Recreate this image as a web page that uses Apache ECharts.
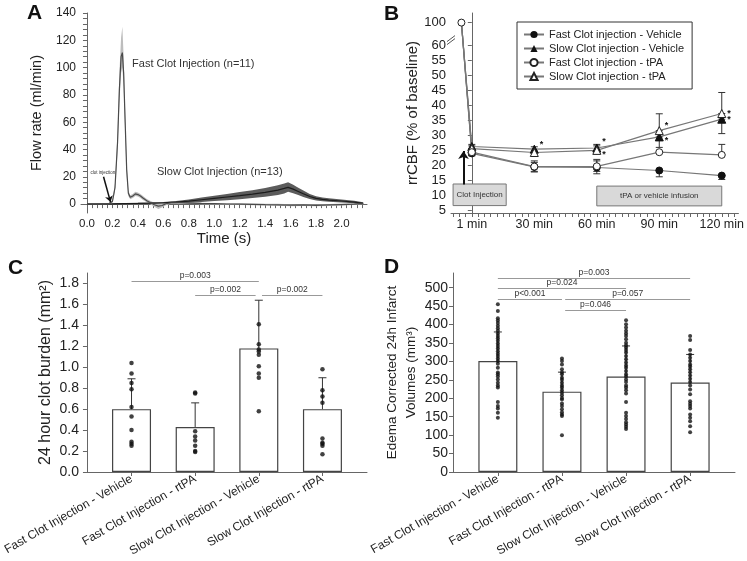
<!DOCTYPE html>
<html>
<head>
<meta charset="utf-8">
<script src="https://cdn.jsdelivr.net/npm/echarts@6/dist/echarts.min.js"></script>
<style>
  html, body { margin: 0; padding: 0; background: #fff; }
  #main { width: 747px; height: 561px; }
</style>
</head>
<body>
<div id="main"></div>
<script>
// ---- panel A : flow rate traces ----
var fastTime = [0, 0.1, 0.17, 0.2, 0.22, 0.24, 0.255, 0.268, 0.278, 0.288, 0.3, 0.312, 0.325, 0.34, 0.36, 0.38, 0.4, 0.42, 0.44, 0.47, 0.5, 0.53, 0.56, 0.59, 0.62, 0.66, 0.72, 0.8, 0.9, 1.0, 1.1, 1.2, 1.3, 1.4, 1.5, 1.6, 1.7, 1.8, 1.9, 2.0, 2.1, 2.17];
var fastMean = [0, 0, 0.3, 2, 12, 45, 85, 108, 111, 96, 60, 25, 8, 5, 6, 7.5, 7, 6, 4.5, 2.5, 1, -0.5, -1.5, -1, 0.3, 1, 1, 0.8, 0.5, 0.3, 0.1, 0, -0.2, -0.4, -0.5, -0.8, -0.6, -0.9, -0.6, -0.3, 0, 0.3];
var fastLow = [-0.5, -0.5, -0.3, 1, 9, 38, 75, 96, 100, 86, 52, 20, 6, 3.5, 4.5, 6, 5.5, 4.5, 3, 1.3, -0.2, -2, -3.5, -2.5, -0.8, 0.2, 0.3, 0.2, 0, -0.2, -0.4, -0.6, -0.8, -1, -1.2, -1.5, -1.3, -1.6, -1.3, -1, -0.6, -0.3];
var fastHigh = [0.5, 0.5, 0.9, 3, 15, 52, 97, 122, 130, 108, 68, 30, 10, 6.5, 7.5, 9, 8.5, 7.5, 6, 3.7, 2.2, 1, 0.5, 0.5, 1.4, 1.8, 1.7, 1.4, 1, 0.8, 0.6, 0.6, 0.4, 0.2, 0.2, -0.1, 0.1, -0.2, 0.1, 0.4, 0.6, 0.9];

var slowTime = [0, 0.2, 0.4, 0.5, 0.6, 0.7, 0.8, 0.9, 1.0, 1.1, 1.2, 1.3, 1.4, 1.5, 1.55, 1.58, 1.62, 1.66, 1.7, 1.75, 1.8, 1.85, 1.9, 2.0, 2.1, 2.17];
var slowMean = [0, 0.2, 0.5, 0.7, 1, 1.4, 2.2, 3.2, 4.2, 5.2, 6.2, 7.3, 8.6, 10.3, 11.5, 12.3, 11, 9.3, 7.6, 5.6, 4.2, 3.5, 3, 2.3, 1.5, 0.6];
var slowLow = [-0.5, -0.3, 0, 0.2, 0.4, 0.6, 1, 1.6, 2.2, 2.9, 3.6, 4.4, 5.4, 6.7, 7.8, 9, 8, 6.6, 5.3, 3.7, 2.6, 2.1, 1.7, 1.2, 0.6, -0.2];
var slowHigh = [0.5, 0.7, 1, 1.2, 1.6, 2.2, 3.4, 4.8, 6.2, 7.5, 8.8, 10.2, 11.8, 13.9, 15.2, 16, 14.2, 12, 9.9, 7.5, 5.8, 4.9, 4.3, 3.4, 2.4, 1.4];

var aXLabels = [0, 0.2, 0.4, 0.6, 0.8, 1.0, 1.2, 1.4, 1.6, 1.8, 2.0];
var aYLabels = [0, 20, 40, 60, 80, 100, 120, 140];

// ---- panel B : rCBF ----
var bTimes = [0, 30, 60, 90, 120];
var bTimeLabels = ['1 min', '30 min', '60 min', '90 min', '120 min'];
var bBaseline = [-5, 100];
var fastVeh = [24.0, 19.5, 19.3, 18.3, 16.6];
var fastVehErr = [[23.2, 24.0], [17.8, 21.0], [17.2, 21.5], [16.2, 18.3], [15.3, 16.6]];
var slowVeh = [26.3, 25.4, 25.8, 29.5, 35.4];
var slowVehErr = [[25.6, 27.0], [24.8, 26.2], [24.5, 27.0], [26.0, 29.5], [30.6, 35.4]];
var fastTpa = [24.4, 19.6, 19.7, 24.4, 23.5];
var fastTpaErr = [[23.4, 25.2], [18.0, 21.5], [18.0, 22.0], [24.4, 24.4], [23.5, 27.0]];
var slowTpa = [25.6, 24.3, 25.0, 31.6, 37.3];
var slowTpaErr = [[24.8, 26.5], [23.0, 24.3], [24.0, 26.5], [31.6, 37.2], [37.3, 44.3]];
var bYLabels = [5, 10, 15, 20, 25, 30, 35, 40, 45, 50, 55, 60, 100];

// ---- panel C / D : groups ----
var groupNames = ['Fast Clot Injection - Vehicle', 'Fast Clot Injection - rtPA', 'Slow Clot Injection - Vehicle', 'Slow Clot Injection - rtPA'];
var clotMean = [0.6, 0.43, 1.18, 0.6];
var clotErrTop = [0.89, 0.66, 1.64, 0.90];
var clotDots = [
  [1.04, 0.94, 0.85, 0.79, 0.62, 0.53, 0.40, 0.29, 0.27, 0.25],
  [0.76, 0.75, 0.39, 0.34, 0.30, 0.25, 0.20, 0.19],
  [1.41, 1.22, 1.17, 1.15, 1.12, 1.01, 0.94, 0.90, 0.58],
  [0.98, 0.78, 0.72, 0.66, 0.32, 0.28, 0.27, 0.25, 0.17]
];
var clotBrackets = [[1, 3, 1.82, 'p=0.003'], [2, 2.95, 1.69, 'p=0.002'], [3.05, 4, 1.69, 'p=0.002']];
var cYLabels = [0, 0.2, 0.4, 0.6, 0.8, 1.0, 1.2, 1.4, 1.6, 1.8];

var infMean = [301, 218, 259, 243];
var infErrTop = [380, 271, 342, 319];
var infDots = [
  [455, 437, 417, 411, 404, 397, 390, 383, 376, 369, 363, 356, 349, 342, 335, 328, 321, 315, 308, 301, 294, 283, 270, 265, 259, 251, 242, 235, 229, 190, 179, 172, 161, 147],
  [308, 301, 292, 279, 271, 265, 256, 250, 242, 235, 229, 222, 215, 208, 201, 197, 186, 179, 170, 162, 156, 152, 100],
  [412, 401, 392, 383, 376, 369, 360, 351, 344, 338, 331, 324, 315, 306, 297, 289, 283, 274, 265, 259, 251, 244, 235, 229, 222, 213, 190, 161, 152, 144, 135, 129, 123, 117],
  [369, 358, 331, 319, 310, 301, 292, 286, 279, 271, 262, 253, 244, 235, 224, 211, 192, 185, 179, 172, 156, 147, 138, 124, 108]
];
var infBrackets = [[1, 4, 527, 'p=0.003'], [1, 3, 499, 'p=0.024'], [1, 2, 470, 'p<0.001'], [2.05, 4, 470, 'p=0.057'], [2.05, 3, 439, 'p=0.046']];
var dYLabels = [0, 50, 100, 150, 200, 250, 300, 350, 400, 450, 500];

// ---------------------------------------------------------------
var fontFam = "'Liberation Sans', Arial, sans-serif";
var axisCol = '#666';
var txtCol = '#222';

function steps(a, b, s) {
    var out = [];
    for (var v = a; v <= b + 1e-9; v += s) out.push(+v.toFixed(4));
    return out;
}
// y-axis break in panel B: 100 is drawn just above 60
function mapB(v) { return v > 60 ? 60 + (v - 60) * 7.6 / 40 : v; }

function bandSeries(times, lo, hi, color) {
    return {
        type: 'custom', xAxisIndex: 0, yAxisIndex: 0, silent: true, z: 1,
        data: times.map(function (t, i) { return [t, lo[i], hi[i]]; }),
        renderItem: function (params, api) {
            if (params.dataIndex !== 0) return;
            var top = [], bot = [];
            for (var i = 0; i < times.length; i++) {
                top.push(api.coord([times[i], hi[i]]));
                bot.unshift(api.coord([times[i], lo[i]]));
            }
            return { type: 'polygon', shape: { points: top.concat(bot) }, style: { fill: color } };
        }
    };
}

function errSeries(axis, data, cap, both) {
    return {
        type: 'custom', xAxisIndex: axis, yAxisIndex: axis, silent: true, z: 3,
        data: data,
        renderItem: function (params, api) {
            var x = api.value(0), lo = api.value(1), hi = api.value(2);
            if (hi - lo < 0.05) return;
            var p1 = api.coord([x, lo]), p2 = api.coord([x, hi]);
            var st = { stroke: '#333', lineWidth: 1 };
            var kids = [
                { type: 'line', shape: { x1: p1[0], y1: p1[1], x2: p2[0], y2: p2[1] }, style: st },
                { type: 'line', shape: { x1: p2[0] - cap, y1: p2[1], x2: p2[0] + cap, y2: p2[1] }, style: st }
            ];
            if (both) kids.push({ type: 'line', shape: { x1: p1[0] - cap, y1: p1[1], x2: p1[0] + cap, y2: p1[1] }, style: st });
            return { type: 'group', children: kids };
        }
    };
}

function bSeries(name, vals, symbol, filled, stars) {
    var data = [{ value: [bBaseline[0], mapB(bBaseline[1])], symbol: name === 'Fast Clot injection - tPA' ? 'circle' : 'none' }];
    vals.forEach(function (v, i) {
        var item = { value: [bTimes[i], v] };
        if (stars && stars[i]) {
            item.label = { show: true, formatter: '*', position: 'right', distance: 1, offset: stars[i], fontSize: 9, color: '#111', fontWeight: 'bold' };
        }
        data.push(item);
    });
    return {
        name: name, type: 'line', xAxisIndex: 1, yAxisIndex: 1, z: 5,
        symbol: symbol, symbolSize: symbol === 'triangle' ? 8 : 7,
        lineStyle: { color: '#777', width: 1.2 },
        itemStyle: filled ? { color: '#111', borderColor: '#111' } : { color: '#fff', borderColor: '#222', borderWidth: 1 },
        data: data
    };
}

function barPanel(axis, mean, top, dots, brackets, dotSize) {
    var pts = [];
    dots.forEach(function (g, i) { g.forEach(function (v) { pts.push([i + 1, v]); }); });
    return [
        {
            type: 'bar', xAxisIndex: axis, yAxisIndex: axis, barWidth: 39, z: 2,
            itemStyle: { color: '#fff', borderColor: '#444', borderWidth: 1.2 },
            data: mean.map(function (v, i) { return [i + 1, v]; })
        },
        errSeries(axis, mean.map(function (v, i) { return [i + 1, v, top[i]]; }), 4, false),
        {
            type: 'scatter', xAxisIndex: axis, yAxisIndex: axis, z: 4, symbolSize: dotSize,
            itemStyle: { color: '#111' }, data: pts,
            markLine: {
                silent: true, symbol: 'none', animation: false,
                lineStyle: { color: '#999', width: 1, type: 'solid' },
                label: { position: 'middle', formatter: '{b}', fontSize: 8.5, color: '#333', distance: 1, fontFamily: fontFam },
                data: brackets.map(function (b) {
                    return [{ coord: [b[0], b[2]], name: b[3] }, { coord: [b[1], b[2]] }];
                })
            }
        }
    ];
}

function valAxis(grid, min, max, labels, fmt, fontSize, ticks, extra) {
    var ax = {
        type: 'value', gridIndex: grid, min: min, max: max,
        axisLine: { show: true, lineStyle: { color: axisCol } },
        axisTick: { show: true, customValues: ticks || labels, length: 4, lineStyle: { color: axisCol } },
        axisLabel: { customValues: labels, formatter: fmt, fontSize: fontSize, color: txtCol, fontFamily: fontFam, margin: 5, interval: 0 },
        splitLine: { show: false }
    };
    for (var k in extra) ax[k] = extra[k];
    return ax;
}

var myChart = echarts.init(document.getElementById('main'));
var option = {
    animation: false,
    backgroundColor: '#fff',
    textStyle: { fontFamily: fontFam },
    grid: [
        { left: 81, top: 13, width: 286, height: 200 },
        { left: 451, top: 13, width: 291, height: 200 },
        { left: 82, top: 273, width: 285, height: 199 },
        { left: 453, top: 273, width: 282, height: 199 }
    ],
    legend: {
        data: ['Fast Clot injection - Vehicle', 'Slow Clot injection - Vehicle', 'Fast Clot injection - tPA', 'Slow Clot injection - tPA'],
        orient: 'vertical', left: 517, top: 22,
        itemWidth: 20, itemHeight: 9, itemGap: 3,
        padding: [7, 8, 7, 6],
        borderColor: '#333', borderWidth: 1,
        textStyle: { fontSize: 11, color: txtCol, fontFamily: fontFam }
    },
    xAxis: [
        valAxis(0, -0.047, 2.2, aXLabels, function (v) { return v.toFixed(1); }, 11.5, steps(0, 2.16, 0.04),
            { name: 'Time (s)', nameLocation: 'middle', nameGap: 18, nameTextStyle: { fontSize: 15, color: txtCol } }),
        valAxis(1, -10, 128, bTimes, function (v) { return bTimeLabels[bTimes.indexOf(v)]; }, 12.5, steps(-9, 126, 3)),
        valAxis(2, 0.3, 4.7, [1, 2, 3, 4], function (v) { return groupNames[Math.round(v) - 1]; }, 12, [1, 2, 3, 4],
            { axisLabel: { customValues: [1, 2, 3, 4], interval: 0, rotate: 30, fontSize: 12, color: txtCol, fontFamily: fontFam, margin: 6,
                formatter: function (v) { return groupNames[Math.round(v) - 1]; } } }),
        valAxis(3, 0.3, 4.7, [1, 2, 3, 4], function (v) { return groupNames[Math.round(v) - 1]; }, 12, [1, 2, 3, 4],
            { axisLabel: { customValues: [1, 2, 3, 4], interval: 0, rotate: 30, fontSize: 12, color: txtCol, fontFamily: fontFam, margin: 6,
                formatter: function (v) { return groupNames[Math.round(v) - 1]; } } })
    ],
    yAxis: [
        valAxis(0, -6.5, 140, aYLabels, function (v) { return String(v); }, 12, steps(0, 140, 4),
            { name: 'Flow rate (ml/min)', nameLocation: 'middle', nameGap: 37, nameTextStyle: { fontSize: 14.5, color: txtCol } }),
        valAxis(1, 4.13, 70.8, bYLabels.map(mapB), function (v) { return v > 60 ? '100' : String(v); }, 13, null,
            { name: 'rrCBF (% of baseline)', nameLocation: 'middle', nameGap: 28, nameTextStyle: { fontSize: 15, color: txtCol } }),
        valAxis(2, 0, 1.9, cYLabels, function (v) { return v.toFixed(1); }, 14, null,
            { name: '24 hour clot burden (mm²)', nameLocation: 'middle', nameGap: 33, nameTextStyle: { fontSize: 16, color: txtCol } }),
        valAxis(3, 0, 540, dYLabels, function (v) { return String(v); }, 14, null,
            { name: 'Edema Corrected 24h Infarct\nVolumes (mm³)', nameLocation: 'middle', nameGap: 14, nameTextStyle: { fontSize: 13.5, color: txtCol, lineHeight: 19 } })
    ],
    series: []
};
option.yAxis[2].axisLabel.margin = 8;

// panel A
option.series.push(bandSeries(fastTime, fastLow, fastHigh, '#bdbdbd'));
option.series.push(bandSeries(slowTime, slowLow, slowHigh, '#5c5c5c'));
option.series.push({
    type: 'line', xAxisIndex: 0, yAxisIndex: 0, showSymbol: false, z: 2,
    lineStyle: { color: '#1c1c1c', width: 1.2 },
    data: slowTime.map(function (t, i) { return [t, slowMean[i]]; })
});
option.series.push({
    type: 'line', xAxisIndex: 0, yAxisIndex: 0, showSymbol: false, z: 3,
    lineStyle: { color: '#4a4a4a', width: 1.2 },
    data: fastTime.map(function (t, i) { return [t, fastMean[i]]; }),
    markPoint: {
        symbol: 'circle', symbolSize: 0, silent: true, animation: false,
        label: { show: true, position: 'right', distance: 0, formatter: '{b}', fontSize: 11, color: '#333', fontFamily: fontFam },
        data: [
            { name: 'Fast Clot Injection (n=11)', coord: [0.354, 103] },
            { name: 'Slow Clot Injection (n=13)', coord: [0.55, 23.8] }
        ]
    },
    markLine: {
        silent: true, animation: false, symbol: ['none', 'arrow'], symbolSize: 6,
        lineStyle: { color: '#111', width: 1.5, type: 'solid' },
        label: { show: true, position: 'start', formatter: 'clot injection', fontSize: 4.5, color: '#333', distance: 2 },
        data: [[{ coord: [0.13, 20] }, { coord: [0.185, 1.5] }]]
    }
});

// panel B
option.series.push(errSeries(1, fastVehErr.map(function (e, i) { return [bTimes[i], e[0], e[1]]; }), 3.5, true));
option.series.push(errSeries(1, slowVehErr.map(function (e, i) { return [bTimes[i], e[0], e[1]]; }), 3.5, true));
option.series.push(errSeries(1, fastTpaErr.map(function (e, i) { return [bTimes[i], e[0], e[1]]; }), 3.5, true));
option.series.push(errSeries(1, slowTpaErr.map(function (e, i) { return [bTimes[i], e[0], e[1]]; }), 3.5, true));
var fv = bSeries('Fast Clot injection - Vehicle', fastVeh, 'circle', true, null);
fv.markArea = {
    silent: true, animation: false,
    itemStyle: { color: '#d9d9d9', borderColor: '#777', borderWidth: 1 },
    label: { position: 'inside', fontSize: 8, color: '#333', fontFamily: fontFam },
    data: [
        [{ name: 'Clot Injection', coord: [-9, 13.8] }, { coord: [16.5, 6.6] }],
        [{ name: 'tPA or vehicle infusion', coord: [60, 13.1] }, { coord: [120, 6.5] }]
    ]
};
fv.markLine = {
    silent: true, animation: false, symbol: ['none', 'arrow'], symbolSize: 8,
    lineStyle: { color: '#111', width: 2, type: 'solid' }, label: { show: false },
    data: [[{ coord: [-4, 13.6] }, { coord: [-4, 24.8] }]]
};
option.series.push(fv);
option.series.push(bSeries('Slow Clot injection - Vehicle', slowVeh, 'triangle', true, [null, [0, -5], [0, -6], [0, 4], [0, 0]]));
option.series.push(bSeries('Slow Clot injection - tPA', slowTpa, 'triangle', false, [null, null, [0, 4], [0, -5], [0, 0]]));
option.series.push(bSeries('Fast Clot injection - tPA', fastTpa, 'circle', false, null));

// panels C and D
option.series = option.series.concat(barPanel(2, clotMean, clotErrTop, clotDots, clotBrackets, 4.5));
option.series = option.series.concat(barPanel(3, infMean, infErrTop, infDots, infBrackets, 4));

option && myChart.setOption(option);

// panel letters and the axis break marks of panel B
var brk = myChart.convertToPixel({ gridIndex: 1 }, [-10, 61.6]);
var letter = { fontSize: 21, fontWeight: 'bold', fill: '#111', fontFamily: fontFam };
myChart.setOption({
    graphic: [
        { type: 'text', left: 27, top: 3, style: Object.assign({ text: 'A' }, letter) },
        { type: 'text', left: 384, top: 4, style: Object.assign({ text: 'B' }, letter) },
        { type: 'text', left: 8, top: 258, style: Object.assign({ text: 'C' }, letter) },
        { type: 'text', left: 384, top: 257, style: Object.assign({ text: 'D' }, letter) },
        { type: 'rect', shape: { x: brk[0] - 2, y: brk[1] - 3, width: 4, height: 5 }, style: { fill: '#fff' } },
        { type: 'line', shape: { x1: brk[0] - 4, y1: brk[1] + 1, x2: brk[0] + 4, y2: brk[1] - 5 }, style: { stroke: '#555', lineWidth: 1 } },
        { type: 'line', shape: { x1: brk[0] - 4, y1: brk[1] + 4, x2: brk[0] + 4, y2: brk[1] - 2 }, style: { stroke: '#555', lineWidth: 1 } }
    ]
});
</script>
</body>
</html>
